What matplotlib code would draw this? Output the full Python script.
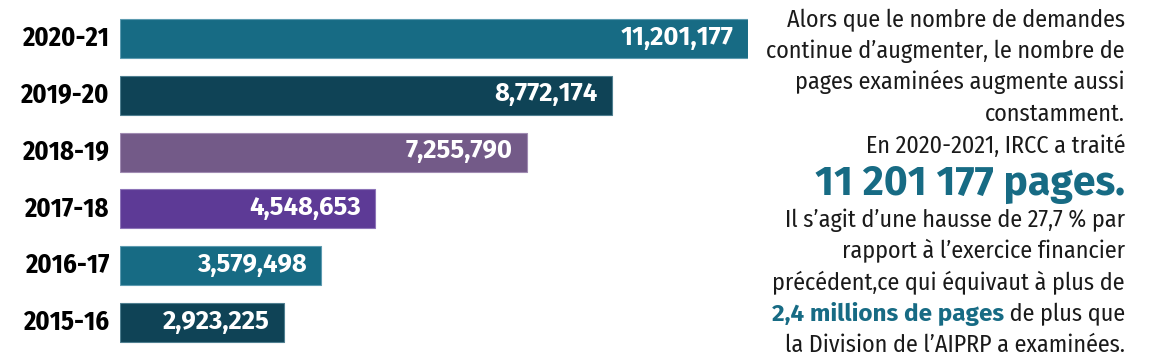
import matplotlib.pyplot as plt

plt.rcParams['font.family'] = ['Fira Sans Condensed', 'DejaVu Sans']
plt.rcParams['font.stretch'] = 'condensed'
wide = ['Fira Sans', 'DejaVu Sans']

years = ['2020-21', '2019-20', '2018-19', '2017-18', '2016-17', '2015-16']
pages = [11201177, 8772174, 7255790, 4548653, 3579498, 2923225]
colors = ['#176b84', '#0f4356', '#735a88', '#5d3a96', '#176b84', '#0f4356']
edges = ['#5d9bb0', '#4f7f90', '#a08bb2', '#8d74b8', '#5d9bb0', '#4f7f90']

teal = '#176b84'
ink = '#1a1a1a'

W, H = 1153, 360
fig = plt.figure(figsize=(W / 100, H / 100), dpi=100)

# axes: bars start at x=120px, 2020-21 ends at ~748px
x0, x1 = 120, 748
ax = fig.add_axes([x0 / W, 0, (x1 - x0) / W, 1])
ax.set_xlim(0, pages[0])
pitch = 56.8
ax.set_ylim((H - 38.5) / pitch, -38.5 / pitch)
ax.axis('off')

pos = list(range(len(years)))
ax.barh(pos, pages, height=39 / pitch, color=colors, edgecolor=edges, linewidth=0.8)

for i, (y, v) in enumerate(zip(years, pages)):
    ax.annotate(y, xy=(0, i), xytext=(-11, 0), textcoords='offset pixels',
                ha='right', va='center', fontsize=19, fontweight='bold', color='black')
    ax.annotate(f'{v:,}', xy=(v, i), xytext=(-14, 1), textcoords='offset pixels',
                ha='right', va='center', fontsize=18.5, fontweight='bold', color='white',
                family=wide, fontstretch='normal')

# text block on the right
xr = 1125 / W
fs = 17.3
lines_top = ['Alors que le nombre de demandes',
             'continue d\u2019augmenter, le nombre de',
             'pages examin\u00e9es augmente aussi',
             'constamment.',
             'En 2020-2021, IRCC a trait\u00e9']
base_top = [27, 58, 89, 121, 153]
for t, b in zip(lines_top, base_top):
    fig.text(xr, 1 - b / H, t, ha='right', va='baseline', fontsize=fs, color=ink)

fig.text(xr, 1 - 195 / H, '11 201 177 pages.', ha='right', va='baseline',
         fontsize=29.5, fontweight='bold', color=teal, family=wide, fontstretch='normal')

lines_bot = ['Il s\u2019agit d\u2019une hausse de 27,7 % par',
             'rapport \u00e0 l\u2019exercice financier',
             'pr\u00e9c\u00e9dent,ce qui \u00e9quivaut \u00e0 plus de']
base_bot = [227, 258, 290]
for t, b in zip(lines_bot, base_bot):
    fig.text(xr, 1 - b / H, t, ha='right', va='baseline', fontsize=fs, color=ink)

tail = fig.text(xr, 1 - 321 / H, ' de plus que', ha='right', va='baseline',
                fontsize=fs, color=ink)
fig.canvas.draw()
bb = tail.get_window_extent()
fig.text(bb.x0 / W, 1 - 321 / H, '2,4 millions de pages', ha='right', va='baseline',
         fontsize=17.5, fontweight='bold', color=teal, family=wide, fontstretch='normal')
fig.text(xr, 1 - 352 / H, 'la Division de l\u2019AIPRP a examin\u00e9es.', ha='right',
         va='baseline', fontsize=fs, color=ink)

fig.savefig('out.png', dpi=100)
